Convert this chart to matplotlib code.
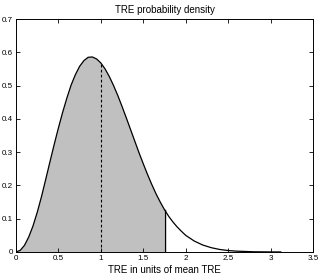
import numpy as np
import matplotlib
matplotlib.use("Agg")
import matplotlib.pyplot as plt

plt.rcParams['font.family'] = ['Liberation Sans', 'DejaVu Sans']

# TRE (in units of mean TRE) and probability density
tre = [0.0, 0.05, 0.10, 0.15, 0.20, 0.25, 0.30, 0.35, 0.40, 0.45, 0.50, 0.55,
       0.60, 0.65, 0.70, 0.75, 0.80, 0.85, 0.90, 0.95, 1.00, 1.05, 1.10, 1.15,
       1.20, 1.25, 1.30, 1.35, 1.40, 1.45, 1.50, 1.55, 1.60, 1.65, 1.70, 1.75,
       1.80, 1.85, 1.90, 1.95, 2.00, 2.10, 2.20, 2.30, 2.40, 2.50, 2.60, 2.80,
       3.00, 3.12]
density = [0.0, 0.005, 0.020, 0.045, 0.078, 0.119, 0.166, 0.218, 0.271, 0.323,
           0.373, 0.420, 0.463, 0.502, 0.533, 0.558, 0.575, 0.585, 0.586, 0.580,
           0.568, 0.550, 0.527, 0.500, 0.470, 0.437, 0.403, 0.368, 0.333, 0.298,
           0.265, 0.233, 0.203, 0.175, 0.150, 0.127, 0.107, 0.090, 0.075, 0.062,
           0.050, 0.033, 0.021, 0.013, 0.0076, 0.0044, 0.0025, 0.0007, 0.0002, 0.0001]
mean_tre = 1.0
cutoff = 1.75

xticks = [0, 0.5, 1, 1.5, 2, 2.5, 3, 3.5]
xticklabels = ['0', '0.5', '1', '1.5', '2', '2.5', '3', '3.5']
yticks = [0, 0.1, 0.2, 0.3, 0.4, 0.5, 0.6, 0.7]
yticklabels = ['0', '0.1', '0.2', '0.3', '0.4', '0.5', '0.6', '0.7']

x = np.array(tre)
y = np.array(density)

fig = plt.figure(figsize=(3.18, 2.79), dpi=100)
ax = fig.add_axes([0.0503, 0.0968, 0.934, 0.835])

mask = x <= cutoff
ax.fill_between(x[mask], 0, y[mask], facecolor='#c0c0c0', edgecolor='none')
ax.plot(x, y, color='black', lw=0.9)
y_mean = np.interp(mean_tre, x, y)
ax.plot([mean_tre, mean_tre], [0, y_mean], color='black', lw=0.8, ls=(0, (2.5, 2)))
y_cut = np.interp(cutoff, x, y)
ax.plot([cutoff, cutoff], [0, y_cut], color='black', lw=1.0)

ax.set_xlim(0, 3.5)
ax.set_ylim(0, 0.7)
ax.set_xticks(xticks)
ax.set_xticklabels(xticklabels)
ax.set_yticks(yticks)
ax.set_yticklabels(yticklabels)
ax.tick_params(direction='in', length=3, width=0.6, labelsize=5.8, pad=2,
               top=True, right=True)
for s in ax.spines.values():
    s.set_linewidth(0.7)
ax.set_title('TRE probability density', fontsize=7, pad=4)
ax.set_xlabel('TRE in units of mean TRE', fontsize=7, labelpad=2)

fig.savefig('out.png', dpi=100)
